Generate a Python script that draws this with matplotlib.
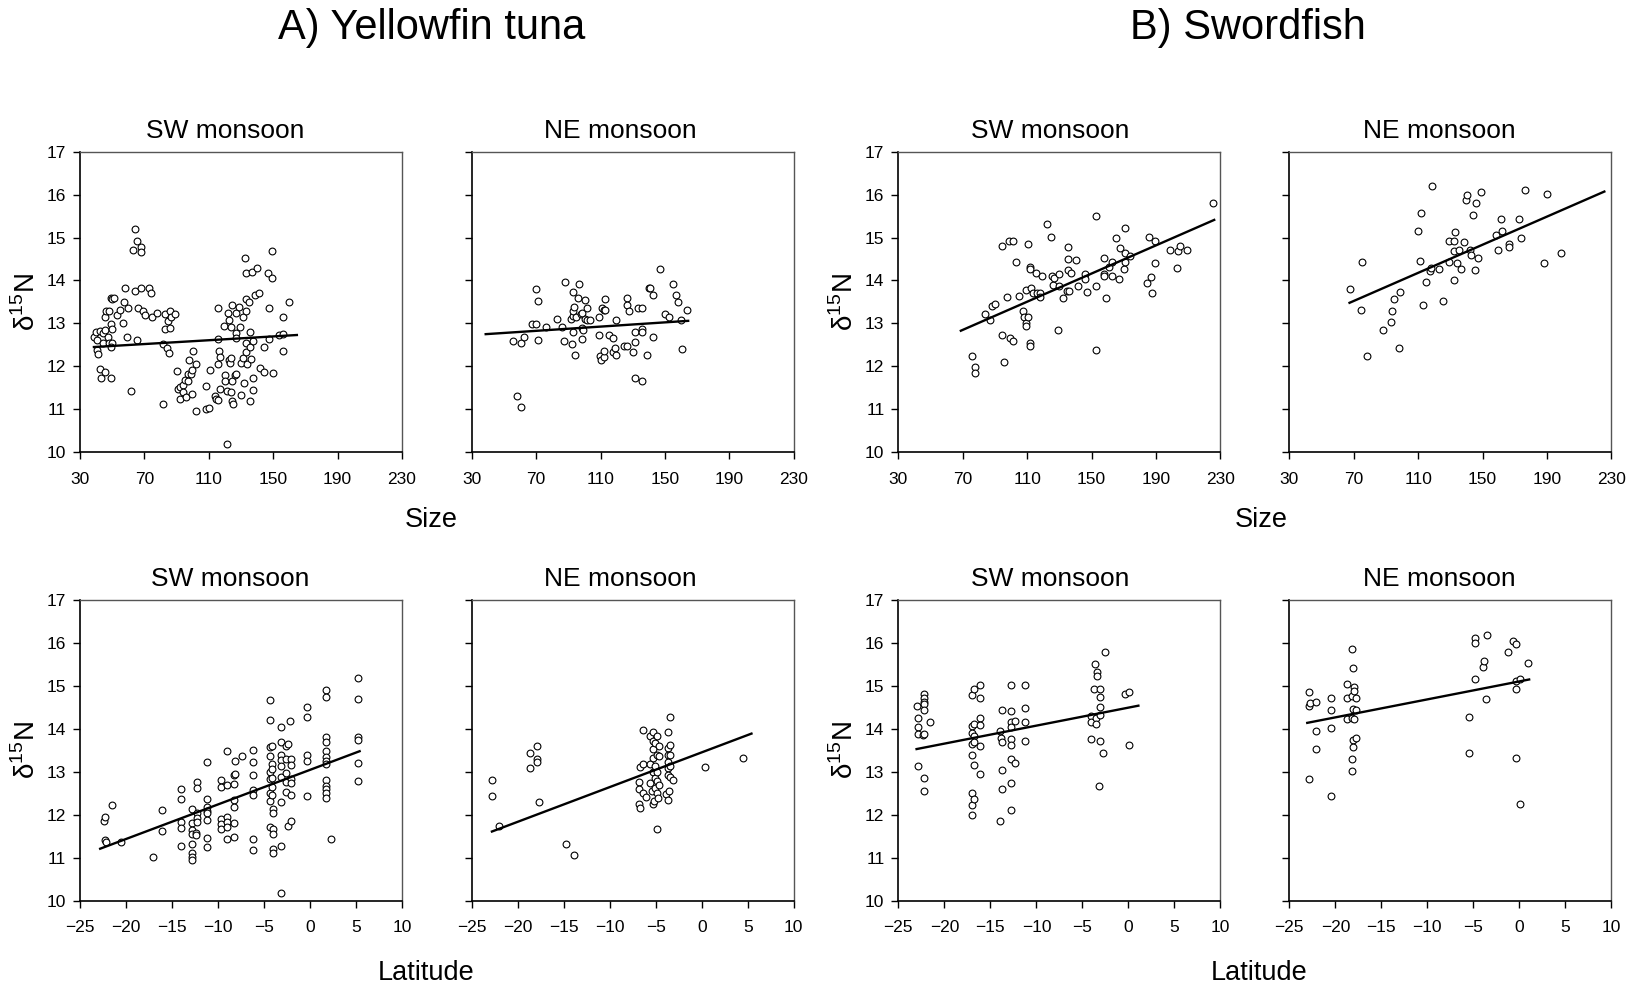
import numpy as np
import matplotlib
matplotlib.use('Agg')
import matplotlib.pyplot as plt

plt.rcParams['font.family'] = ['Liberation Sans', 'DejaVu Sans']
plt.rcParams['mathtext.fontset'] = 'custom'
plt.rcParams['mathtext.rm'] = 'Liberation Sans'

# Yellowfin tuna, d15N vs size (cm)
yft_sw_size = [
    (38.7, 12.68), (39.9, 12.79), (40.7, 12.61), (42.2, 12.83), (40.3, 12.38), (41.1, 12.28),
    (42.6, 11.95), (43.2, 11.72), (45.7, 11.86), (49.6, 11.72), (44.5, 12.77), (45.3, 12.85),
    (44.6, 12.55), (47.6, 12.68), (48.0, 12.55), (50.1, 12.54), (49.2, 12.45), (49.0, 12.98),
    (50.0, 12.87), (45.7, 13.16), (46.1, 13.30), (48.2, 13.30), (49.0, 13.59), (50.2, 13.58),
    (51.1, 13.59), (53.3, 13.20), (54.8, 13.32), (56.6, 13.01), (57.3, 13.49), (59.1, 12.69),
    (59.8, 13.35), (58.3, 13.82), (61.6, 11.43), (63.1, 14.71), (64.1, 15.19), (65.5, 14.91),
    (67.8, 14.77), (68.2, 14.66), (64.1, 13.76), (65.5, 12.61), (66.2, 13.37), (68.2, 13.83),
    (69.0, 13.30), (70.3, 13.20), (72.6, 13.83), (74.0, 13.70), (74.5, 13.16), (77.8, 13.25),
    (81.5, 11.12), (81.4, 12.51), (83.1, 13.21), (83.1, 12.87), (83.9, 12.42), (84.8, 13.06),
    (85.4, 12.32), (85.8, 13.29), (85.8, 12.89), (86.8, 13.14), (89.3, 13.22), (90.3, 11.89),
    (90.9, 11.48), (92.1, 11.53), (92.3, 11.24), (94.0, 11.56), (94.0, 11.40), (95.5, 11.69),
    (96.1, 11.29), (96.9, 11.83), (97.1, 11.65), (97.9, 12.15), (99.2, 11.82), (99.4, 11.92),
    (99.4, 11.36), (100.0, 12.36), (101.9, 12.05), (101.9, 10.95), (108.1, 11.55), (108.1, 11.00),
    (110.2, 11.03), (110.8, 11.92), (113.7, 11.32), (114.3, 11.24), (115.7, 11.21), (115.7, 12.05),
    (115.9, 12.63), (115.9, 13.37), (116.3, 12.35), (117.1, 12.22), (117.1, 11.48), (119.6, 12.95),
    (119.9, 11.81), (120.3, 11.67), (121.1, 11.43), (121.1, 10.19), (121.9, 13.25), (122.8, 13.08),
    (122.8, 12.15), (123.2, 12.09), (123.8, 12.20), (124.0, 12.91), (124.0, 11.40), (124.6, 13.42),
    (124.6, 11.65), (124.6, 11.19), (124.8, 11.12), (126.1, 11.79), (126.7, 13.25), (127.1, 12.77),
    (127.1, 12.65), (127.1, 11.83), (128.6, 13.39), (129.6, 12.91), (129.8, 12.09), (130.2, 11.33),
    (131.2, 13.16), (131.4, 12.19), (131.8, 11.62), (132.5, 14.52), (132.9, 13.28), (132.9, 12.54),
    (133.1, 14.18), (133.3, 13.58), (133.3, 12.34), (134.0, 12.06), (135.0, 13.51), (135.4, 12.46),
    (135.4, 11.20), (135.8, 12.81), (136.0, 12.17), (136.6, 14.20), (137.2, 11.73), (137.6, 12.59),
    (137.6, 11.44), (138.7, 13.66), (140.1, 14.30), (140.9, 13.70), (141.9, 11.96), (144.5, 12.46),
    (144.5, 11.86), (146.9, 14.18), (147.1, 13.37), (147.5, 12.63), (149.0, 14.05), (149.0, 14.69),
    (149.6, 11.84), (153.9, 12.72), (155.8, 13.14), (156.0, 12.75), (156.2, 12.36), (160.0, 13.49),
]
yft_sw_size_fit = [(38.7, 12.45), (164.7, 12.73)]

yft_ne_size = [
    (55.6, 12.60), (58.1, 11.30), (60.4, 11.06), (60.8, 12.55), (62.7, 12.69), (67.6, 12.99),
    (69.7, 12.99), (69.7, 13.80), (71.2, 13.53), (71.2, 12.62), (76.1, 12.91), (83.2, 13.10),
    (85.8, 12.91), (87.1, 12.60), (87.7, 13.97), (91.4, 13.10), (92.0, 12.51), (92.7, 12.79),
    (92.7, 13.18), (92.7, 13.28), (92.7, 13.73), (93.7, 13.39), (94.1, 12.26), (94.7, 13.14),
    (96.0, 13.60), (96.6, 13.91), (97.6, 13.21), (98.3, 12.89), (98.5, 12.64), (98.7, 13.24),
    (99.1, 12.85), (100.3, 13.10), (100.5, 13.55), (101.8, 13.35), (101.8, 13.07), (103.6, 13.08),
    (108.8, 12.74), (109.2, 13.16), (109.8, 12.23), (110.5, 12.14), (110.7, 13.37), (112.0, 13.31),
    (112.0, 12.22), (112.1, 12.35), (112.7, 13.31), (112.7, 13.57), (115.2, 12.72), (117.5, 12.66),
    (117.7, 12.34), (118.9, 12.42), (119.6, 13.08), (119.8, 12.27), (124.5, 12.47), (126.2, 12.47),
    (126.6, 13.60), (126.6, 13.43), (127.8, 13.28), (129.9, 12.33), (131.1, 12.56), (131.6, 12.79),
    (131.6, 11.74), (133.0, 13.35), (135.5, 13.35), (135.5, 12.88), (135.7, 12.79), (135.7, 11.66),
    (138.6, 12.27), (140.0, 13.82), (140.9, 13.82), (142.5, 13.67), (142.5, 12.69), (147.1, 14.26),
    (150.2, 13.23), (152.2, 13.16), (154.7, 13.91), (156.6, 13.66), (158.0, 13.51), (159.9, 13.07),
    (160.5, 12.40), (163.6, 13.31),
]
yft_ne_size_fit = [(38.7, 12.75), (164.4, 13.06)]

# Swordfish, d15N vs size (cm)
swo_sw_size = [
    (75.8, 12.23), (77.3, 11.99), (77.3, 11.84), (83.7, 13.21), (87.0, 13.08), (88.0, 13.40),
    (90.1, 13.45), (94.2, 12.72), (94.2, 14.80), (95.7, 12.10), (97.6, 13.62), (98.8, 14.93),
    (100.9, 14.93), (99.5, 12.66), (100.9, 12.58), (103.0, 14.43), (105.2, 13.63), (107.3, 13.28),
    (108.3, 13.14), (109.2, 13.02), (109.2, 12.94), (109.0, 13.78), (110.4, 14.85), (110.8, 13.14),
    (111.7, 14.32), (111.7, 14.26), (111.7, 12.54), (111.7, 12.48), (112.5, 13.83), (113.5, 13.70),
    (115.6, 14.17), (116.0, 13.70), (117.9, 13.70), (118.1, 13.61), (119.3, 14.11), (122.6, 15.32),
    (124.5, 15.02), (125.5, 14.11), (125.9, 13.90), (126.8, 14.05), (128.9, 12.85), (129.5, 14.16),
    (129.5, 13.88), (132.2, 13.59), (134.9, 13.75), (135.9, 13.75), (135.3, 14.78), (135.3, 14.50),
    (135.3, 14.25), (137.1, 14.17), (140.5, 14.48), (141.7, 13.88), (146.1, 14.14), (146.1, 14.03),
    (146.9, 13.73), (152.5, 15.51), (152.5, 13.86), (152.5, 12.37), (157.7, 14.52), (157.7, 14.15),
    (157.9, 14.11), (158.9, 13.59), (160.8, 14.32), (162.5, 14.43), (162.6, 14.10), (165.3, 14.99),
    (166.8, 14.04), (167.4, 14.75), (169.9, 14.26), (170.6, 15.22), (170.6, 14.64), (170.7, 14.43),
    (173.8, 14.58), (184.4, 13.95), (185.9, 15.02), (186.9, 14.07), (187.7, 13.71), (189.2, 14.93),
    (189.2, 14.41), (198.5, 14.72), (203.1, 14.28), (203.7, 14.69), (204.9, 14.80), (209.5, 14.72),
    (225.6, 15.80),
]
swo_sw_size_fit = [(68.8, 12.83), (226.1, 15.41)]

swo_ne_size = [
    (67.4, 13.79), (74.3, 13.32), (75.1, 14.43), (78.2, 12.25), (88.0, 12.84), (93.0, 13.03),
    (93.8, 13.29), (95.1, 13.58), (98.0, 12.42), (98.8, 13.74), (109.6, 15.16), (111.1, 14.46),
    (111.7, 15.58), (113.0, 13.44), (114.8, 13.96), (117.5, 14.23), (118.0, 14.29), (118.8, 16.19),
    (122.7, 14.27), (125.2, 13.53), (129.0, 14.91), (129.0, 14.43), (132.1, 14.02), (132.1, 14.69),
    (132.3, 14.93), (132.7, 15.13), (134.2, 14.40), (135.4, 14.72), (136.7, 14.27), (138.5, 14.89),
    (140.0, 15.88), (140.6, 15.99), (141.9, 14.72), (142.9, 14.60), (144.3, 15.53), (145.0, 14.25),
    (145.8, 15.80), (147.0, 14.53), (148.9, 16.06), (158.5, 15.05), (159.3, 14.72), (161.2, 15.44),
    (161.8, 15.16), (166.4, 14.86), (166.4, 14.78), (172.4, 15.42), (173.9, 14.98), (176.6, 16.11),
    (188.0, 14.40), (189.9, 16.01), (198.4, 14.63),
]
swo_ne_size_fit = [(67.4, 13.48), (225.6, 16.07)]

# Yellowfin tuna, d15N vs latitude
yft_sw_lat = [
    (-22.33, 11.85), (-22.26, 11.95), (-22.26, 11.42), (-22.19, 11.36), (-21.54, 12.22),
    (-20.53, 11.36), (-17.11, 11.02), (-16.10, 12.10), (-16.10, 11.62), (-14.00, 12.60),
    (-14.00, 12.36), (-14.00, 11.84), (-14.00, 11.69), (-13.97, 11.28), (-12.78, 12.14),
    (-12.78, 11.81), (-12.78, 11.64), (-12.78, 11.56), (-12.78, 11.33), (-12.78, 11.12),
    (-12.78, 11.02), (-12.78, 10.94), (-12.42, 11.58), (-12.35, 11.52), (-12.31, 12.76),
    (-12.31, 12.62), (-12.31, 12.05), (-12.31, 11.93), (-12.31, 11.83), (-11.19, 13.23),
    (-11.19, 12.36), (-11.19, 12.17), (-11.19, 12.08), (-11.19, 12.03), (-11.19, 11.89),
    (-11.19, 11.47), (-11.19, 11.24), (-9.64, 12.82), (-9.64, 12.64), (-9.64, 11.90),
    (-9.64, 11.79), (-9.64, 11.66), (-9.00, 13.48), (-9.00, 12.70), (-9.00, 11.95),
    (-9.00, 11.84), (-9.00, 11.71), (-9.00, 11.43), (-8.31, 12.92), (-8.31, 12.72),
    (-8.31, 12.34), (-8.31, 12.18), (-8.31, 11.82), (-8.31, 11.48), (-8.20, 13.26),
    (-8.20, 12.94), (-7.37, 13.36), (-6.18, 13.50), (-6.18, 13.24), (-6.18, 12.92),
    (-6.18, 12.57), (-6.18, 12.46), (-6.18, 11.43), (-6.18, 11.19), (-4.31, 14.68),
    (-4.31, 14.21), (-4.31, 13.58), (-4.31, 13.36), (-4.31, 12.99), (-4.31, 12.84),
    (-4.31, 12.51), (-4.31, 12.31), (-4.31, 11.72), (-4.09, 13.60), (-4.09, 13.19),
    (-4.09, 13.07), (-4.09, 12.86), (-4.09, 12.65), (-4.09, 12.45), (-3.98, 12.14),
    (-3.98, 12.05), (-3.98, 11.66), (-3.98, 11.56), (-3.98, 11.21), (-3.98, 11.12),
    (-3.15, 14.04), (-3.15, 13.70), (-3.15, 13.40), (-3.15, 13.28), (-3.15, 13.13),
    (-3.15, 12.89), (-3.15, 12.29), (-3.15, 11.27), (-3.15, 10.19), (-2.65, 13.59),
    (-2.65, 13.31), (-2.65, 12.97), (-2.65, 12.76), (-2.65, 12.54), (-2.43, 13.65),
    (-2.43, 11.74), (-2.18, 14.18), (-2.11, 13.29), (-2.11, 13.17), (-2.11, 12.84),
    (-2.11, 12.74), (-2.11, 12.45), (-2.07, 11.86), (-0.38, 14.52), (-0.38, 14.28),
    (-0.38, 13.40), (-0.38, 13.26), (-0.38, 12.44), (1.71, 14.90), (1.71, 14.75),
    (1.71, 13.82), (1.71, 13.70), (1.71, 13.48), (1.71, 13.34), (1.71, 13.26),
    (1.71, 13.19), (1.71, 12.82), (1.71, 12.68), (1.71, 12.60), (1.71, 12.51),
    (1.71, 12.39), (2.25, 11.43), (5.21, 15.18), (5.21, 14.69), (5.21, 13.82),
    (5.21, 13.75), (5.21, 13.20), (5.21, 12.79),
]
yft_sw_lat_fit = [(-22.8, 11.21), (5.39, 13.48)]

yft_ne_lat = [
    (-22.80, 12.80), (-22.80, 12.44), (-22.04, 11.75), (-18.68, 13.45), (-18.68, 13.08),
    (-17.89, 13.61), (-17.89, 13.31), (-17.89, 13.23), (-17.67, 12.30), (-14.78, 11.31),
    (-13.88, 11.07), (-6.77, 12.76), (-6.77, 12.61), (-6.77, 12.26), (-6.66, 13.11),
    (-6.66, 12.15), (-6.34, 13.98), (-6.34, 13.19), (-6.34, 12.51), (-6.01, 12.41),
    (-5.58, 13.83), (-5.58, 13.19), (-5.58, 12.73), (-5.40, 12.55), (-5.32, 12.24),
    (-5.25, 13.92), (-5.25, 13.71), (-5.25, 13.52), (-5.25, 13.32), (-5.25, 13.00),
    (-5.14, 12.31), (-5.07, 13.66), (-5.07, 13.13), (-5.04, 12.86), (-5.04, 12.62),
    (-4.89, 13.83), (-4.89, 13.40), (-4.89, 13.00), (-4.89, 12.78), (-4.89, 12.51),
    (-4.89, 11.68), (-4.78, 12.38), (-4.67, 13.59), (-4.67, 12.69), (-4.60, 13.36),
    (-3.88, 12.49), (-3.66, 13.92), (-3.66, 13.56), (-3.66, 13.39), (-3.66, 13.24),
    (-3.66, 13.09), (-3.66, 12.92), (-3.66, 12.35), (-3.52, 12.56), (-3.48, 12.88),
    (-3.41, 14.27), (-3.41, 13.62), (-3.41, 13.39), (-3.41, 13.14), (-3.09, 12.80),
    (0.31, 13.11), (4.46, 13.33),
]
yft_ne_lat_fit = [(-22.8, 11.61), (5.40, 13.89)]

# Swordfish, d15N vs latitude
swo_sw_lat = [
    (-23.02, 14.53), (-22.91, 14.26), (-22.91, 14.05), (-22.91, 13.88), (-22.91, 13.14),
    (-22.37, 13.86), (-22.23, 14.81), (-22.23, 14.71), (-22.23, 14.62), (-22.23, 14.57),
    (-22.16, 14.43), (-22.23, 13.88), (-22.23, 12.85), (-22.23, 12.55), (-21.58, 14.15),
    (-17.01, 14.79), (-17.01, 14.07), (-17.01, 13.91), (-17.01, 13.64), (-17.01, 13.40),
    (-17.01, 12.50), (-17.01, 12.23), (-17.01, 12.00), (-16.73, 14.93), (-16.73, 14.12),
    (-16.73, 13.83), (-16.73, 13.70), (-16.73, 13.15), (-16.73, 12.37), (-16.12, 15.01),
    (-16.12, 14.71), (-16.12, 14.26), (-16.12, 14.09), (-16.12, 13.60), (-16.12, 12.95),
    (-13.96, 13.96), (-13.88, 13.79), (-13.70, 13.69), (-13.70, 14.43), (-13.70, 13.05),
    (-13.70, 12.59), (-13.96, 11.85), (-12.81, 15.03), (-12.81, 14.41), (-12.81, 14.15),
    (-12.81, 14.05), (-12.81, 13.77), (-12.81, 13.62), (-12.81, 13.29), (-12.81, 12.74),
    (-12.81, 12.12), (-12.34, 14.18), (-12.34, 13.21), (-11.26, 15.03), (-11.26, 14.48),
    (-11.26, 14.17), (-11.26, 13.71), (-4.03, 14.29), (-4.03, 14.16), (-4.03, 13.77),
    (-3.74, 14.93), (-3.60, 15.51), (-3.49, 14.25), (-3.49, 14.11), (-3.38, 15.33),
    (-3.38, 15.22), (-3.17, 12.67), (-3.06, 14.93), (-3.06, 14.74), (-3.06, 14.50),
    (-3.06, 14.33), (-3.06, 13.72), (-2.73, 13.45), (-2.52, 15.79), (-0.40, 14.81),
    (0.07, 14.86), (0.07, 13.63),
]
swo_sw_lat_fit = [(-23.02, 13.53), (1.08, 14.54)]

swo_ne_lat = [
    (-22.87, 14.86), (-22.87, 14.53), (-22.87, 12.83), (-22.73, 14.60), (-22.11, 14.63),
    (-22.08, 13.95), (-22.08, 13.53), (-20.42, 14.72), (-20.42, 14.43), (-20.42, 14.02),
    (-20.42, 12.43), (-18.75, 15.05), (-18.75, 14.72), (-18.75, 14.22), (-18.21, 15.86),
    (-18.21, 14.77), (-18.21, 14.26), (-18.21, 13.29), (-18.21, 13.02), (-18.10, 15.41),
    (-18.10, 14.47), (-18.10, 13.74), (-18.10, 13.57), (-17.96, 14.98), (-17.96, 14.88),
    (-17.96, 14.24), (-17.74, 14.72), (-17.74, 14.43), (-17.74, 13.79), (-5.51, 14.27),
    (-5.51, 13.43), (-4.82, 16.11), (-4.82, 16.01), (-4.82, 15.15), (-3.92, 15.43),
    (-3.81, 15.57), (-3.63, 14.69), (-3.52, 16.18), (-1.21, 15.79), (-0.74, 16.05),
    (-0.38, 15.98), (-0.38, 15.12), (-0.38, 14.93), (-0.38, 13.33), (0.05, 15.15),
    (0.05, 12.26), (0.96, 15.53),
]
swo_ne_lat_fit = [(-23.05, 14.14), (1.06, 15.15)]

size_ticks = [30, 70, 110, 150, 190, 230]
lat_ticks = [-25, -20, -15, -10, -5, 0, 5, 10]
y_ticks = [10, 11, 12, 13, 14, 15, 16, 17]
panel_titles = ['SW monsoon', 'NE monsoon', 'SW monsoon', 'NE monsoon']

fig = plt.figure(figsize=(16.31, 9.89), dpi=100)

col_left = [0.049, 0.2892, 0.5508, 0.7905]
row_bottom = [0.5427, 0.0893]
w, h = 0.1975, 0.304
# titles sit a little left of the panel centre in the original
title_x = [[0.45, 0.462, 0.47, 0.465], [0.465, 0.462, 0.47, 0.465]]

rows = [
    [yft_sw_size, yft_ne_size, swo_sw_size, swo_ne_size],
    [yft_sw_lat, yft_ne_lat, swo_sw_lat, swo_ne_lat],
]
fits = [
    [yft_sw_size_fit, yft_ne_size_fit, swo_sw_size_fit, swo_ne_size_fit],
    [yft_sw_lat_fit, yft_ne_lat_fit, swo_sw_lat_fit, swo_ne_lat_fit],
]

for r in range(2):
    for c in range(4):
        ax = fig.add_axes([col_left[c], row_bottom[r], w, h])
        xs, ys = zip(*rows[r][c])
        ax.scatter(xs, ys, s=24, facecolors='white', edgecolors='black',
                   linewidths=0.8, zorder=3)
        fx, fy = zip(*fits[r][c])
        ax.plot(fx, fy, color='black', lw=1.7, zorder=4)

        if r == 0:
            ax.set_xlim(30, 230)
            ax.set_xticks(size_ticks)
        else:
            ax.set_xlim(-25, 10)
            ax.set_xticks(lat_ticks)
        ax.set_ylim(10, 17)
        ax.set_yticks(y_ticks)
        ax.tick_params(direction='out', length=5, width=1, labelsize=12.5)
        ax.tick_params(axis='x', pad=9)
        ax.tick_params(axis='y', pad=5)
        for s in ['left', 'bottom']:
            ax.spines[s].set_color('black')
            ax.spines[s].set_linewidth(1.2)
        for s in ['top', 'right']:
            ax.spines[s].set_color('#555555')
            ax.spines[s].set_linewidth(1.0)
        ax.set_title(panel_titles[c], fontsize=19, pad=10, x=title_x[r][c])
        if c in (0, 2):
            ax.set_ylabel('δ$^{\\mathregular{15}}$N', fontsize=20, labelpad=4)
        else:
            ax.set_yticklabels([])

fig.text(0.2647, 0.9717, 'A) Yellowfin tuna', fontsize=30, ha='center', va='center')
fig.text(0.7653, 0.9717, 'B) Swordfish', fontsize=30, ha='center', va='center')
fig.text(0.2647, 0.474, 'Size', fontsize=19.5, ha='center', va='center')
fig.text(0.7736, 0.474, 'Size', fontsize=19.5, ha='center', va='center')
fig.text(0.2615, 0.016, 'Latitude', fontsize=19.5, ha='center', va='center')
fig.text(0.7717, 0.016, 'Latitude', fontsize=19.5, ha='center', va='center')

fig.savefig('out.png', dpi=100)
